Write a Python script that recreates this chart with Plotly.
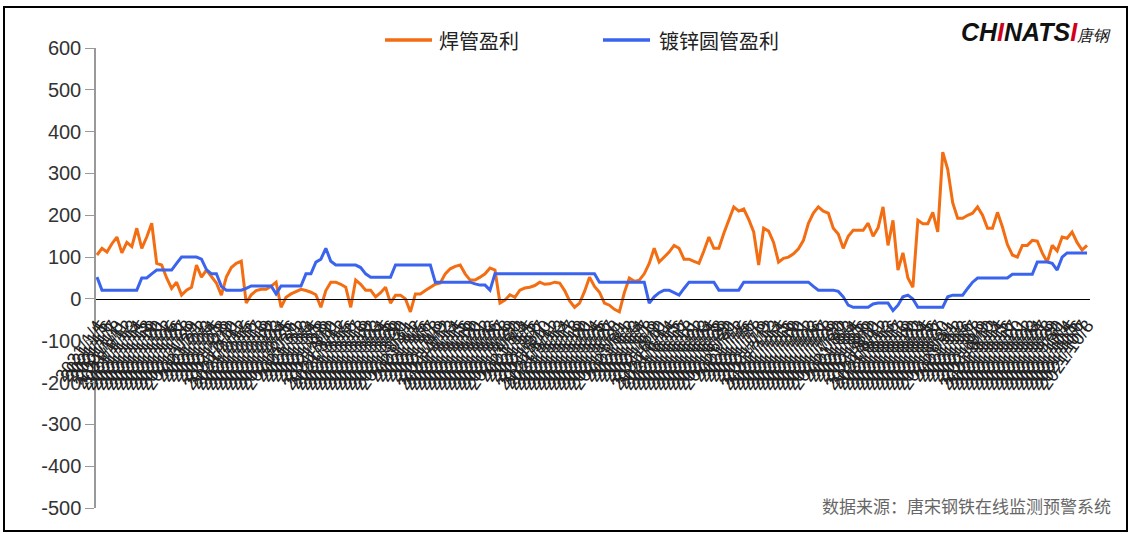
import pandas as pd
import plotly.graph_objects as go

dates = [d.strftime("%Y/%-m/%-d") for d in pd.bdate_range("2021-01-04", periods=200)]

weld_profit = [
    105, 121, 112, 132, 148, 110, 135, 125, 169, 121,
    148, 181, 85, 81, 50, 25, 40, 9, 21, 28,
    81, 52, 69, 52, 38, 9, 52, 75, 85, 90,
    -10, 10, 20, 23, 23, 30, 40, -20, 4, 12,
    18, 23, 20, 16, 10, -20, 20, 40, 40, 35,
    28, -20, 45, 35, 21, 21, 5, 15, 28, -10,
    9, 9, 0, -31, 12, 12, 20, 28, 35, 38,
    60, 72, 78, 81, 60, 45, 45, 52, 60, 74,
    69, -10, -3, 10, 4, 21, 26, 28, 32, 40,
    35, 36, 40, 38, 20, -5, -20, -10, 18, 52,
    30, 16, -10, -15, -25, -31, 15, 50, 42, 45,
    60, 85, 121, 88, 100, 112, 128, 121, 95, 95,
    90, 85, 115, 148, 121, 121, 157, 190, 220, 210,
    215, 190, 160, 81, 169, 162, 135, 88, 97, 100,
    108, 120, 140, 181, 205, 220, 210, 205, 169, 155,
    121, 150, 164, 164, 164, 181, 150, 170, 220, 128,
    188, 69, 110, 50, 28, 188, 180, 180, 207, 160,
    351, 310, 230, 193, 193, 200, 205, 220, 200, 169,
    169, 207, 172, 130, 105, 100, 128, 128, 140, 138,
    110, 88, 128, 115, 148, 145, 160, 135, 117, 128,
]

galv_profit = [
    52, 21, 21, 21, 21, 21, 21, 21, 21, 50,
    50, 60, 69, 69, 69, 69, 85, 100, 100, 100,
    100, 95, 70, 60, 60, 30, 21, 21, 21, 21,
    25, 31, 31, 31, 31, 31, 12, 31, 31, 31,
    31, 31, 60, 60, 88, 95, 121, 90, 81, 81,
    81, 81, 81, 75, 60, 52, 52, 52, 52, 52,
    81, 81, 81, 81, 81, 81, 81, 81, 40, 40,
    40, 40, 40, 40, 40, 40, 36, 33, 33, 21,
    60, 60, 60, 60, 60, 60, 60, 60, 60, 60,
    60, 60, 60, 60, 60, 60, 60, 60, 60, 60,
    60, 40, 40, 40, 40, 40, 40, 40, 40, 40,
    40, -10, 5, 15, 21, 21, 15, 9, 25, 40,
    40, 40, 40, 40, 40, 21, 21, 21, 21, 21,
    40, 40, 40, 40, 40, 40, 40, 40, 40, 40,
    40, 40, 40, 40, 30, 21, 21, 21, 21, 18,
    5, -15, -20, -20, -20, -20, -12, -10, -10, -10,
    -28, -15, 5, 9, 0, -20, -20, -20, -20, -20,
    -20, 5, 9, 9, 9, 25, 40, 50, 50, 50,
    50, 50, 50, 50, 59, 59, 59, 59, 59, 88,
    88, 88, 85, 69, 100, 110, 110, 110, 110, 110,
]

series_names = ["焊管盈利", "镀锌圆管盈利"]
y_ticks = [600, 500, 400, 300, 200, 100, 0, -100, -200, -300, -400, -500]
y_tick_text = ["600", "500", "400", "300", "200", "100", "0", "-100", "-200", "-300", "-400", "-500"]

ORANGE = "#F36D12"
BLUE = "#3A63EE"

fig = go.Figure()
fig.add_trace(go.Scatter(x=dates, y=weld_profit, mode="lines", name=series_names[0],
                         line=dict(color=ORANGE, width=3)))
fig.add_trace(go.Scatter(x=dates, y=galv_profit, mode="lines", name=series_names[1],
                         line=dict(color=BLUE, width=3)))

L, R, T, B = 96, 43, 48, 26
W, H = 1133, 534
pw, ph = W - L - R, H - T - B


def px(xp):
    return (xp - L) / pw


def py(yp):
    return (H - B - yp) / ph


fig.update_layout(
    width=W, height=H,
    margin=dict(l=L, r=R, t=T, b=B),
    paper_bgcolor="white", plot_bgcolor="white",
    font=dict(family="Liberation Sans, Arial, sans-serif", color="#333"),
    showlegend=False,
    xaxis=dict(type="category", range=[-0.2, 199.6], anchor="free",
               position=500 / 1100, showline=True, linecolor="#000", linewidth=1,
               showgrid=False, zeroline=False,
               ticks="outside", ticklen=8, tickcolor="rgba(0,0,0,0)",
               tickmode="array", tickvals=dates, ticktext=dates, tickangle=-55,
               tickfont=dict(size=18, color="#222"), automargin=False),
    yaxis=dict(range=[-500, 600], tickvals=y_ticks, ticktext=y_tick_text, showline=True,
               linecolor="#999", linewidth=1.5, ticks="outside", ticklen=9, tickcolor="#999",
               showgrid=False, zeroline=False,
               tickfont=dict(size=20, color="#333"), automargin=False),
)

# custom legend (line samples + labels)
legend_items = [(series_names[0], ORANGE, 385, 432, 437), (series_names[1], BLUE, 603, 650, 657)]
for name, col, x0, x1, xt in legend_items:
    fig.add_shape(type="line", xref="paper", yref="paper", x0=px(x0), x1=px(x1), y0=py(40), y1=py(40),
                  line=dict(color=col, width=3.5))
    fig.add_annotation(xref="paper", yref="paper", x=px(xt), y=py(40), xanchor="left", yanchor="middle",
                       text=name, showarrow=False,
                       font=dict(family="Noto Sans CJK SC", size=20, color="#222"))

# outer frame
fig.add_shape(type="rect", xref="paper", yref="paper",
              x0=px(4), x1=px(1127), y0=py(531), y1=py(7),
              line=dict(color="#000", width=2), fillcolor="rgba(0,0,0,0)", layer="below")

# logo
fig.add_annotation(xref="paper", yref="paper", x=px(1113), y=py(32), xanchor="right", yanchor="middle",
                   text="<b><i>CH<span style='color:#d0021b'>I</span>NATS<span style='color:#d0021b'>I</span></i></b>"
                        "<span style='font-size:16px'><i>唐钢</i></span>",
                   showarrow=False, font=dict(family="Liberation Sans, Arial", size=25, color="#111"))

# source
fig.add_annotation(xref="paper", yref="paper", x=px(1113), y=py(505), xanchor="right", yanchor="middle",
                   text="数据来源：唐宋钢铁在线监测预警系统", showarrow=False,
                   font=dict(family="Noto Sans CJK SC", size=17, color="#666"))

fig.write_html("out.html", config={"displayModeBar": False},
               post_script="document.body.style.margin='0';")
